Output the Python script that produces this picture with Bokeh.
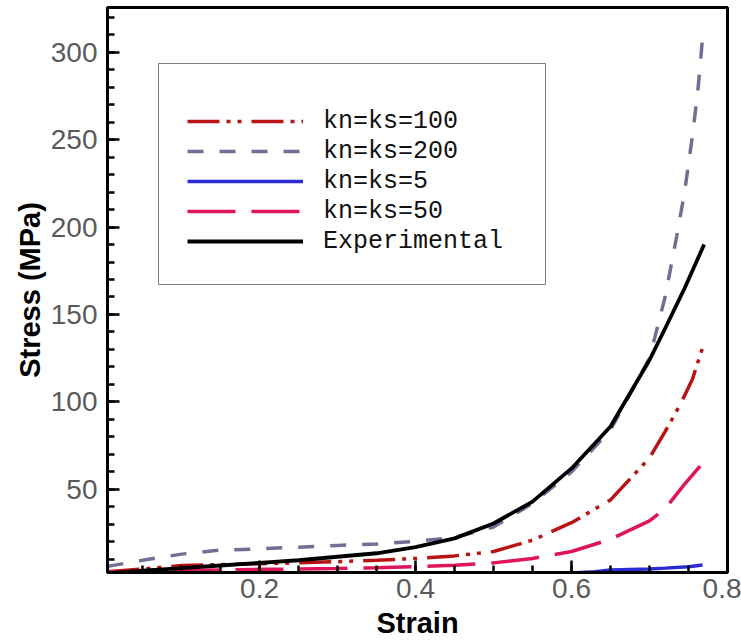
from bokeh.plotting import figure
from bokeh.models import Legend, LegendItem, SingleIntervalTicker, Range1d
from bokeh.embed import file_html
from bokeh.resources import INLINE

# ---- data ----
strain_exp = [0.005, 0.05, 0.1, 0.15, 0.2, 0.25, 0.3, 0.35, 0.4, 0.45, 0.5, 0.55, 0.6, 0.65, 0.7, 0.72, 0.745, 0.77]
stress_exp = [2, 3.5, 5, 6.5, 8, 9.5, 11.5, 13.5, 17, 22, 30.5, 43, 62, 86, 124, 142, 165, 190]

strain_200 = [0.005, 0.05, 0.1, 0.15, 0.2, 0.25, 0.3, 0.35, 0.4, 0.45, 0.5, 0.55, 0.6, 0.65, 0.7, 0.72, 0.735, 0.745, 0.755, 0.762, 0.768]
stress_200 = [6, 9.5, 13, 15.3, 16, 17, 18, 18.8, 20.3, 22.5, 28.5, 42, 60, 84, 125, 160, 195, 220, 252, 278, 308]

strain_100 = [0.005, 0.05, 0.1, 0.15, 0.2, 0.25, 0.3, 0.35, 0.4, 0.45, 0.5, 0.55, 0.6, 0.65, 0.7, 0.72, 0.74, 0.755, 0.768]
stress_100 = [3, 4.5, 6.5, 7, 7.5, 8, 8.7, 9.5, 10.5, 12, 14.5, 21, 31, 44, 68, 83, 99, 113, 131]

strain_50 = [0.005, 0.05, 0.1, 0.15, 0.2, 0.25, 0.3, 0.35, 0.4, 0.45, 0.5, 0.55, 0.6, 0.65, 0.7, 0.72, 0.745, 0.768]
stress_50 = [2.5, 3, 3.5, 4, 4.3, 4.5, 4.8, 5.2, 5.8, 6.7, 8, 10.5, 14.5, 21.5, 32, 39, 53, 65]

strain_5 = [0.005, 0.1, 0.2, 0.3, 0.4, 0.5, 0.6, 0.63, 0.65, 0.7, 0.72, 0.75, 0.768]
stress_5 = [0.3, 0.5, 0.7, 0.9, 1.2, 1.6, 2.2, 3.0, 4.0, 4.5, 5.0, 5.8, 6.8]

labels = ["kn=ks=100", "kn=ks=200", "kn=ks=5", "kn=ks=50", "Experimental"]
colors = ["#b81414", "#707094", "#2b2bd6", "#e0145c", "#000000"]
dashes = ["32 7 4 7 4 10", "16 16", "solid", "48 16", "solid"]

p = figure(width=741, height=643, output_backend="svg", toolbar_location=None,
           x_range=Range1d(0.005, 0.8), y_range=Range1d(2.5, 325.5),
           min_border_left=107, min_border_right=14, min_border_top=7, min_border_bottom=71)
p.background_fill_color = "white"
p.border_fill_color = "white"
p.grid.visible = False
p.outline_line_color = "black"
p.outline_line_width = 3

lw = 3.5
r200 = p.line(strain_200, stress_200, line_color=colors[1], line_width=lw, line_dash=dashes[1])
r5 = p.line(strain_5, stress_5, line_color=colors[2], line_width=lw, line_dash=dashes[2])
r50 = p.line(strain_50, stress_50, line_color=colors[3], line_width=lw, line_dash=dashes[3])
r100 = p.line(strain_100, stress_100, line_color=colors[0], line_width=lw, line_dash=dashes[0])
rexp = p.line(strain_exp, stress_exp, line_color=colors[4], line_width=3.8, line_dash=dashes[4])

p.xaxis.ticker = SingleIntervalTicker(interval=0.2, num_minor_ticks=4)
p.yaxis.ticker = SingleIntervalTicker(interval=50, num_minor_ticks=5)

for ax in (p.xaxis[0], p.yaxis[0]):
    ax.axis_line_width = 3
    ax.axis_line_color = "black"
    ax.major_tick_in = 12
    ax.major_tick_out = 0
    ax.minor_tick_in = 7
    ax.minor_tick_out = 0
    ax.major_tick_line_width = 2.5
    ax.minor_tick_line_width = 2.5
    ax.major_label_text_font = "Liberation Sans"
    ax.major_label_text_font_size = "28px"
    ax.major_label_text_color = "#5a5a5a"
    ax.axis_label_text_font = "Liberation Sans"
    ax.axis_label_text_font_size = "29px"
    ax.axis_label_text_font_style = "bold"
    ax.axis_label_text_color = "black"

p.xaxis.axis_label = "Strain"
p.yaxis.axis_label = "Stress (MPa)"
p.xaxis.major_label_standoff = 6
p.yaxis.major_label_standoff = 10
p.xaxis.axis_label_standoff = 6
p.yaxis.axis_label_standoff = 2

legend = Legend(items=[
    LegendItem(label=labels[0], renderers=[r100]),
    LegendItem(label=labels[1], renderers=[r200]),
    LegendItem(label=labels[2], renderers=[r5]),
    LegendItem(label=labels[3], renderers=[r50]),
    LegendItem(label=labels[4], renderers=[rexp]),
], location=(51, 287))
legend.title = " "
legend.title_text_font_size = "12px"
legend.title_standoff = 0
legend.label_text_font = "Liberation Mono"
legend.label_text_font_size = "25px"
legend.label_text_color = "#111111"
legend.glyph_width = 116
legend.glyph_height = 30
legend.label_height = 30
legend.spacing = 0
legend.padding = 28
legend.margin = 0
legend.label_standoff = 20
legend.label_width = 194
legend.border_line_color = "black"
legend.border_line_width = 1.5
legend.background_fill_color = "white"
legend.background_fill_alpha = 1.0
p.add_layout(legend, "center")

open("out.html", "w").write(file_html(p, INLINE))
